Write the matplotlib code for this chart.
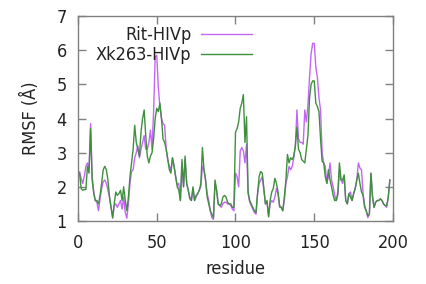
import numpy as np
import matplotlib
matplotlib.use("Agg")
import matplotlib.pyplot as plt

residues = list(range(1, 199))

rit_hivp = [
    2.44, 2.25, 2.10, 2.30, 2.60, 2.70, 2.55, 3.85, 2.30, 1.85,
    1.60, 1.55, 1.30, 1.65, 1.95, 2.15, 2.20, 2.10, 1.90, 1.70,
    1.40, 1.08, 1.45, 1.50, 1.40, 1.50, 1.60, 1.35, 1.70, 1.25,
    1.08, 1.50, 2.10, 2.45, 2.50, 2.85, 3.00, 3.20, 2.85, 3.10,
    3.30, 3.50, 3.10, 3.10, 3.30, 3.66, 3.10, 4.20, 5.80, 5.85,
    4.90, 4.35, 4.00, 3.85, 3.80, 3.10, 2.80, 2.60, 2.50, 2.85,
    2.60, 2.30, 2.05, 2.10, 1.60, 2.60, 2.00, 2.80, 2.10, 1.90,
    1.70, 1.60, 1.95, 1.60, 1.70, 1.80, 1.90, 2.00, 2.60, 2.50,
    2.20, 1.80, 1.60, 1.30, 1.10, 1.05, 2.10, 1.90, 1.50, 1.45,
    1.40, 1.50, 1.55, 1.55, 1.50, 1.50, 1.45, 1.35, 1.30, 2.40,
    2.30, 2.00, 3.05, 3.15, 3.05, 2.70, 3.25, 1.80, 1.55, 1.45,
    1.35, 1.25, 1.20, 1.80, 2.10, 2.20, 2.30, 1.90, 1.50, 1.55,
    1.15, 1.50, 1.60, 1.55, 1.70, 1.95, 1.80, 1.40, 1.40, 1.30,
    1.60, 2.10, 2.30, 2.60, 2.50, 2.60, 2.85, 3.20, 4.25, 3.40,
    3.30, 3.30, 3.25, 4.25, 3.90, 4.40, 5.20, 5.90, 6.20, 6.20,
    5.50, 5.20, 4.60, 4.25, 3.00, 2.70, 2.60, 2.10, 2.30, 2.70,
    2.20, 2.00, 1.75, 1.60, 1.75, 2.50, 2.20, 2.10, 2.30, 1.60,
    1.50, 1.80, 1.85, 1.60, 1.80, 1.95, 2.20, 2.70, 2.55, 2.50,
    1.80, 1.45, 1.30, 1.10, 1.20, 2.40, 1.70, 1.40, 1.55, 1.60,
    1.60, 1.65, 1.60, 1.50, 1.45, 1.40, 1.70, 2.20,
]

xk263_hivp = [
    2.40, 1.95, 1.90, 1.92, 1.92, 2.60, 2.40, 3.70, 2.20, 1.80,
    1.60, 1.60, 1.50, 1.75, 2.10, 2.50, 2.60, 2.50, 2.20, 1.70,
    1.40, 1.10, 1.50, 1.85, 1.75, 1.80, 1.90, 1.60, 2.00, 1.60,
    1.30, 1.70, 2.30, 2.70, 3.10, 3.80, 3.30, 3.10, 2.90, 3.60,
    4.00, 4.25, 3.50, 2.90, 2.70, 2.90, 3.00, 3.40, 4.00, 4.30,
    4.20, 4.45, 4.00, 3.40, 3.30, 3.10, 2.80, 2.50, 2.40, 2.85,
    2.60, 2.30, 2.00, 1.90, 1.60, 2.80, 2.00, 2.90, 2.10, 1.90,
    1.65, 1.60, 2.00, 1.60, 1.75, 1.80, 1.90, 2.10, 3.15, 2.50,
    2.20, 1.70, 1.50, 1.30, 1.20, 1.10, 2.20, 1.90, 1.50, 1.45,
    1.50, 1.70, 1.75, 1.70, 1.55, 1.50, 1.50, 1.40, 1.40, 3.60,
    3.70, 3.90, 4.30, 4.45, 4.70, 3.30, 4.05, 1.85, 1.60, 1.50,
    1.40, 1.30, 1.25, 1.80, 2.30, 2.45, 2.40, 1.95, 1.50, 1.60,
    1.12, 1.60, 1.85, 1.95, 2.25, 2.10, 1.85, 1.45, 1.40, 1.30,
    1.70, 2.20, 2.95, 2.70, 2.85, 2.80, 2.90, 3.20, 3.75, 3.10,
    3.00, 2.80, 2.75, 2.70, 3.10, 3.50, 4.60, 5.00, 5.10, 5.10,
    4.45, 4.35, 4.20, 3.40, 2.75, 2.70, 2.30, 2.10, 2.50, 2.20,
    2.00, 1.75, 1.60, 1.60, 1.85, 2.70, 2.20, 2.20, 2.35, 1.60,
    1.50, 1.80, 1.70, 1.60, 1.80, 1.95, 2.20, 2.40, 2.10, 1.85,
    1.75, 1.40, 1.30, 1.15, 1.20, 2.40, 1.70, 1.40, 1.55, 1.60,
    1.60, 1.65, 1.60, 1.50, 1.45, 1.45, 1.70, 2.20,
]

x_ticks = [0, 50, 100, 150, 200]
y_ticks = [1, 2, 3, 4, 5, 6, 7]

plt.rcParams["font.family"] = ["DejaVu Sans"]
plt.rcParams["font.stretch"] = "condensed"

W, H = 427, 284
fig = plt.figure(figsize=(W / 100, H / 100), dpi=100)
ax = fig.add_axes([78 / W, 1 - 221 / H, (393 - 78) / W, (221 - 16) / H])

ax.plot(residues, rit_hivp, color="#c466f5", lw=1.0, label="Rit-HIVp")
ax.plot(residues, xk263_hivp, color="#3f8f3f", lw=1.0, label="Xk263-HIVp")

ax.set_xlim(0, 200)
ax.set_ylim(1, 7)
ax.set_xticks(x_ticks)
ax.set_yticks(y_ticks)
FS = 13
ax.tick_params(direction="in", length=5.5, width=1.0, color="#808080",
               top=True, right=True, labelsize=FS, labelcolor="#222222")
ax.tick_params(axis="x", pad=9)
ax.tick_params(axis="y", pad=8)
for s in ax.spines.values():
    s.set_color("#808080")
    s.set_linewidth(1.0)

ax.set_xlabel("residue", fontsize=FS, color="#222222", labelpad=6)
ax.set_ylabel("RMSF (Å)", fontsize=FS, color="#222222", labelpad=12)

leg = ax.legend(loc="upper right", bbox_to_anchor=(252 / W, 1 - 26 / H),
                bbox_transform=fig.transFigure, frameon=False, markerfirst=False,
                fontsize=FS, handlelength=2.8, handletextpad=0.55,
                labelspacing=0.12, borderpad=0, borderaxespad=0)
for t in leg.get_texts():
    t.set_color("#222222")

fig.savefig("out.png", dpi=100)
